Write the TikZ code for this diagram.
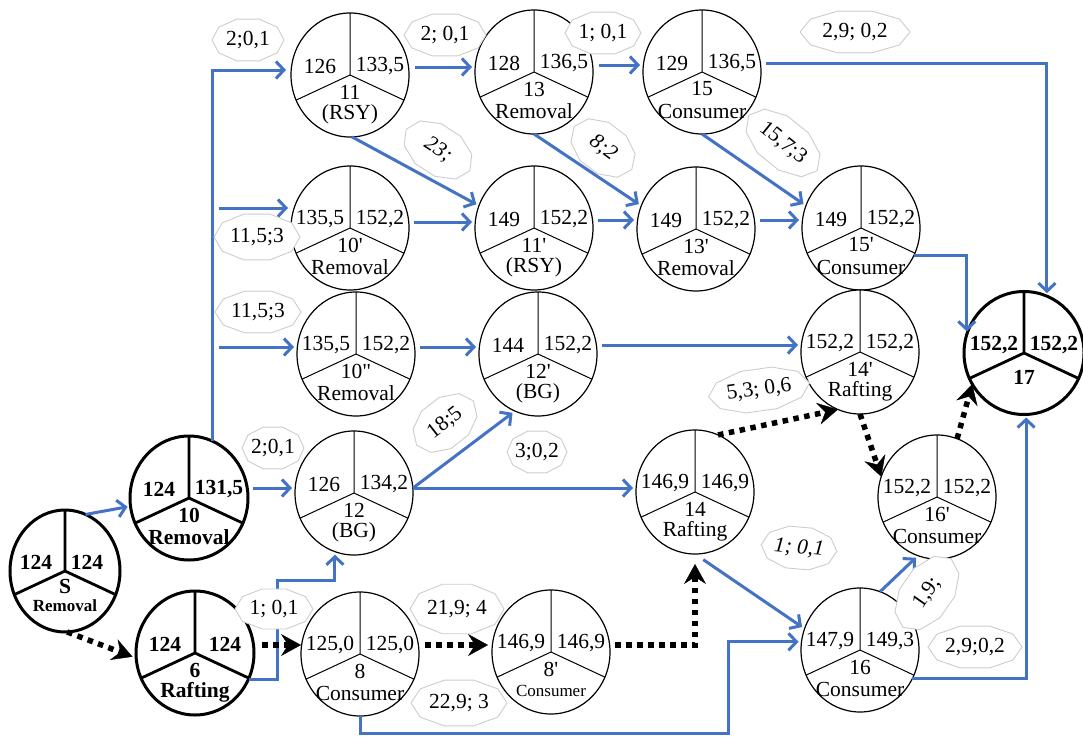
\documentclass[tikz,border=0pt]{standalone}
\usepackage{fontspec}
\setmainfont{Liberation Serif}
\usetikzlibrary{arrows.meta,shapes.geometric,calc}
\definecolor{myblue}{RGB}{68,114,196}
\definecolor{labgray}{RGB}{205,205,205}
\tikzset{
 ev/.style={ellipse, draw, line width=1.2pt, minimum width=118pt, minimum height=124pt, inner sep=0pt, outer sep=0pt, fill=white},
 evb/.style={ev, line width=3pt},
 sec/.style={line width=1pt},
 secb/.style={line width=2.8pt},
 num/.style={font=\fontsize{21.5}{21.5}\selectfont, inner sep=0pt},
 numb/.style={font=\fontsize{21.5}{21.5}\selectfont\bfseries, inner sep=0pt},
 bl/.style={draw=myblue, line width=3pt, -{Straight Barb[length=8pt,width=17pt]}, shorten >=3pt},
 dt/.style={draw=black, line width=5.5pt, dash pattern=on 5.5pt off 5.5pt, -{Stealth[length=20pt,width=22pt,inset=7pt,line width=0.4pt]}},
 labshape/.style={draw=labgray, line width=0.9pt, fill=white},
 labtxt/.style={font=\fontsize{21.5}{21.5}\selectfont, inner sep=0pt},
}
\newcommand\evt[9]{%
 \node[ev#4] (#1) at (#2,#3) {};
 \draw[sec#4] (#1.center) -- (#1.90) (#1.center) -- (#1.205) (#1.center) -- (#1.-25);
 \node[num#4] (#1-l) at ([shift={(-30pt,9pt)}]#1.center) {#5};
 \node[num#4] (#1-r) at ([shift={(30pt,9pt)}]#1.center) {#6};
 \node[num#4] (#1-i) at ([shift={(0pt,-17pt)}]#1.center) {#7};
 \node[num#4,#9] (#1-d) at ([shift={(0pt,-39pt)}]#1.center) {#8};
}
\newcommand\lab[7]{%
 \path[labshape, shift={(#2,#3)}, rotate=#6] (0:#4pt and #5pt) \foreach \t in {36,72,...,324}{ -- (\t:#4pt and #5pt)} -- cycle;
 \node[labtxt, rotate=#6] (#1) at (#2,#3) {#7};
}
\newcommand\pr{\textquotesingle}
\begin{document}
\begin{tikzpicture}[x=1pt,y=-1pt]
\useasboundingbox[fill=white] (0,0) rectangle (1083,736);
% ---------- events ----------
\node[evb, minimum width=110pt, minimum height=122pt] (S) at (65,571) {};
\draw[secb] (S.center) -- (S.90) (S.center) -- (S.205) (S.center) -- (S.-25);
\node[numb] (S-l) at ([shift={(-29pt,9pt)}]S.center) {124};
\node[numb] (S-r) at ([shift={(22pt,9pt)}]S.center) {124};
\node[numb] (S-i) at ([shift={(0pt,-15pt)}]S.center) {S};
\node[numb, font=\fontsize{17}{17}\selectfont\bfseries] (S-d) at ([shift={(0pt,-35pt)}]S.center) {Removal};
\evt{n10}{189}{498}{b}{124}{131,5}{10}{Removal}{}
\evt{n6}{195}{653}{b}{124}{124}{6}{Rafting}{}
\evt{n11}{350}{75}{}{126}{133,5}{11}{(RSY)}{}
\evt{n13}{534}{72}{}{128}{136,5}{13}{Removal}{}
\evt{n15}{702}{72}{}{129}{136,5}{15}{Consumer}{}
\evt{n10p}{350}{228}{}{135,5}{152,2}{10\pr}{Removal}{}
\evt{n11p}{534}{228}{}{149}{152,2}{11\pr}{(RSY)}{}
\evt{n13p}{696}{229}{}{149}{152,2}{13\pr}{Removal}{}
\evt{n15p}{861}{228}{}{149}{152,2}{15\pr}{Consumer}{}
\evt{n10pp}{356}{354}{}{135,5}{152,2}{10\textquotedbl}{Removal}{}
\evt{n12p}{538}{354}{}{144}{152,2}{12\pr}{(BG)}{}
\evt{n14p}{860}{352}{}{152,2}{152,2}{14\pr}{Rafting}{}
\evt{n12}{354}{493}{}{126}{134,2}{12}{(BG)}{}
\evt{n14}{695}{492}{}{146,9}{146,9}{14}{Rafting}{}
\evt{n16p}{937}{497}{}{152,2}{152,2}{16\pr}{Consumer}{}
\evt{n8}{360}{654}{}{125,0}{125,0}{8}{Consumer}{}
\evt{n8p}{551}{652}{}{146,9}{146,9}{8\pr}{Consumer}{font=\fontsize{17}{17}\selectfont}
\evt{n16}{860}{650}{}{147,9}{149,3}{16}{Consumer}{}
\node[evb, minimum width=120pt, minimum height=123pt] (n17) at (1024,353) {};
\draw[secb] (n17.center) -- (n17.90) (n17.center) -- (n17.205) (n17.center) -- (n17.-25);
\node[numb] (n17-l) at ([shift={(-30pt,8pt)}]n17.center) {152,2};
\node[numb] (n17-r) at ([shift={(30pt,8pt)}]n17.center) {152,2};
\node[numb] (n17-i) at ([shift={(0pt,-24pt)}]n17.center) {17};
% ---------- blue connectors ----------
\draw[bl] (S.70) -- (n10.188);
\path ([yshift=10pt]n10.east) coordinate (s0);
\draw[bl, shorten <=5pt] (s0) -- (s0 -| n12.west);
\path ([yshift=5pt]n11.west) coordinate (a11);
\draw[bl, shorten >=5pt] (n10.68) |- (a11);
\path ([yshift=20pt]n10p.west) coordinate (a10p);
\draw[bl, shorten <=7pt] (n10.68 |- a10p) -- (a10p);
\path ([yshift=7pt]n10pp.west) coordinate (a10pp);
\draw[bl, shorten <=7pt] (n10.68 |- a10pp) -- (a10pp);
\path ([yshift=8pt]n11.east) coordinate (s1);
\draw[bl, shorten <=6pt] (s1) -- (s1 -| n13.west);
\path ([yshift=7pt]n13.east) coordinate (s2);
\draw[bl, shorten <=6pt] (s2) -- (s2 -| n15.west);
\path ([yshift=9pt]n15.east) coordinate (s3);
\draw[bl, shorten <=5pt] (s3) -| (n17.68);
\draw[bl] (n11.-88) -- (n11p.158);
\draw[bl] (n13.-90) -- (n13p.157);
\draw[bl] (n15.-90) -- (n15p.158);
\path ([yshift=6pt]n10p.east) coordinate (s4);
\draw[bl, shorten <=5pt] (s4) -- (s4 -| n11p.west);
\path ([yshift=8pt]n11p.east) coordinate (s5);
\draw[bl, shorten <=5pt] (s5) -- (s5 -| n13p.west);
\path ([yshift=9pt]n13p.east) coordinate (s6);
\draw[bl, shorten <=5pt] (s6) -- (s6 -| n15p.west);
\draw[bl] (n15p.-27) -| (n17.162);
\path ([yshift=7pt]n10pp.east) coordinate (s7);
\draw[bl, shorten <=5pt] (s7) -- (s7 -| n12p.west);
\path ([yshift=9pt]n12p.east) coordinate (s8);
\draw[bl, shorten <=5pt] (s8) -- (s8 -| n14p.west);
\path ([yshift=5pt]n12.east) coordinate (s9);
\draw[bl] (s9) -- (n12p.-112);
\draw[bl] (s9) -- (s9 -| n14.west);
\coordinate (b1) at (277,580);
\draw[bl] (n6.-26) -| (b1) -| (n12.-108);
\draw[bl, shorten <=10pt] (n14.south) -- (n16.159);
\coordinate (b2) at (728,733);
\draw[bl] (n8.south) |- (b2) |- (n16.172);
\draw[bl] (n16.71) -- (n16p.-108);
\draw[bl] (n16.-29) -| (n17.-88);
% ---------- dotted connectors ----------
\draw[dt, shorten >=4pt] (S.-88) -- (n6.185);
\path ([yshift=8pt]n6.east) coordinate (d1);
\draw[dt, shorten <=8pt] (d1) -- (d1 -| n8.west);
\path ([yshift=9pt]n8.east) coordinate (d2);
\draw[dt, shorten <=6pt, shorten >=4pt] (d2) -- (d2 -| n8p.west);
\path ([yshift=7pt]n8p.east) coordinate (d3);
\draw[dt, shorten <=5pt, shorten >=10pt] (d3) -| (n14.south);
\draw[dt] (n14.68) -- (n14p.-111);
\draw[dt] (n14p.-90) -- (n16p.160);
\draw[dt] (n16p.71) -- (n17.211);
% ---------- labels ----------
\lab{L1}{248}{40}{36}{22}{0}{2;0,1}
\lab{L2}{445}{35}{41}{22}{0}{2; 0,1}
\lab{L3}{603}{33}{38}{22}{0}{1; 0,1}
\lab{L4}{855}{32}{55}{22}{0}{2,9; 0,2}
\lab{L5}{438}{150}{38}{25}{-33}{\itshape 23;}
\lab{L6}{603}{148}{36}{25}{-37}{\itshape 8;2}
\lab{L7}{783}{143}{44}{25}{-39}{15,7;3}
\lab{L8}{257}{237}{43}{24}{0}{11,5;3}
\lab{L9}{258}{312}{43}{22}{0}{11,5;3}
\lab{L10}{445}{423}{36}{25}{38}{18;5}
\lab{L11}{537}{452}{30}{22}{0}{3;0,2}
\lab{L12}{273}{448}{31}{22}{0}{2;0,1}
\lab{L13}{274}{609}{39}{21}{0}{1; 0,1}
\lab{L14}{457}{609}{47}{26}{0}{21,9; 4}
\lab{L15}{459}{703}{48}{24}{0}{22,9; 3}
\lab{L16}{759}{390}{51}{22}{8}{5,3; 0,6}
\lab{L17}{799}{548}{38}{22}{-5}{\itshape 1; 0,1}
\lab{L18}{927}{593}{42}{26}{55}{1,9;}
\lab{L19}{975}{647}{47}{22}{0}{2,9;0,2}
\end{tikzpicture}
\end{document}
